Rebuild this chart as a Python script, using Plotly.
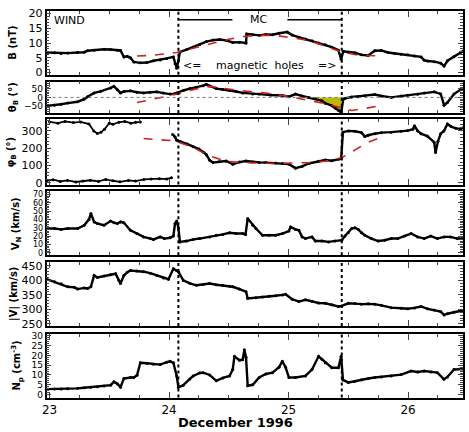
import plotly.graph_objects as go

# ---------------- data (days of December 1996) ----------------
b_t = [22.975, 23.042, 23.097, 23.152, 23.235, 23.290, 23.318, 23.373, 23.456, 23.511, 23.567, 23.594,
       23.622, 23.650, 23.677, 23.705, 23.760, 23.815, 23.870, 23.926, 23.981, 24.036, 24.050, 24.064,
       24.078, 24.091, 24.147, 24.202, 24.257, 24.312, 24.368, 24.423, 24.478, 24.533, 24.589, 24.644,
       24.649, 24.700, 24.754, 24.810, 24.865, 24.920, 24.989, 25.030, 25.086, 25.141, 25.196, 25.251,
       25.307, 25.362, 25.417, 25.440, 25.458, 25.500, 25.555, 25.611, 25.666, 25.721, 25.776, 25.832,
       25.887, 25.942, 25.997, 26.053, 26.108, 26.135, 26.163, 26.218, 26.273, 26.301, 26.329, 26.384,
       26.439, 26.460]
b_v = [6.8, 6.7, 6.5, 6.6, 6.8, 6.9, 7.4, 7.6, 7.9, 7.8, 7.6, 7.5,
       5.3, 5.5, 5.0, 3.6, 3.3, 3.4, 4.0, 4.3, 4.8, 5.3, 3.0, 1.5,
       4.0, 7.0, 7.8, 8.7, 9.5, 10.5, 11.0, 11.2, 10.9, 10.2, 10.3, 10.0,
       13.1, 12.8, 12.6, 12.9, 12.8, 13.3, 13.7, 12.7, 12.0, 11.4, 10.8, 10.0,
       9.4, 8.6, 7.6, 4.5, 7.2, 6.9, 6.7, 6.0, 5.8, 7.4, 7.5, 6.8,
       6.5, 6.2, 6.0, 5.6, 5.3, 4.2, 3.9, 3.7, 3.2, 2.2, 4.0, 5.4,
       6.9, 7.2]
bfit_t = [23.732, 23.850, 24.064, 24.200, 24.340, 24.500, 24.616, 24.750, 24.892, 25.030, 25.169,
          25.300, 25.445, 25.583, 25.721, 25.776]
bfit_v = [5.6, 5.8, 6.8, 8.2, 9.8, 11.3, 12.2, 12.6, 12.6, 11.7, 10.9, 9.0, 7.0, 5.9, 5.6, 5.6]

th_t = [22.975, 23.042, 23.097, 23.152, 23.235, 23.290, 23.318, 23.373, 23.428, 23.511, 23.539, 23.567,
        23.594, 23.622, 23.677, 23.732, 23.787, 23.842, 23.898, 23.953, 24.009, 24.050, 24.064, 24.119,
        24.174, 24.229, 24.285, 24.312, 24.340, 24.395, 24.450, 24.506, 24.561, 24.616, 24.700, 24.754,
        24.850, 24.948, 25.003, 25.058, 25.113, 25.169, 25.224, 25.279, 25.307, 25.362, 25.389, 25.417,
        25.440, 25.458, 25.472, 25.528, 25.583, 25.638, 25.721, 25.776, 25.859, 25.942, 25.997, 26.080,
        26.135, 26.218, 26.273, 26.301, 26.329, 26.384, 26.439, 26.460]
th_v = [-49, -45, -40, -33, -25, -10, 4, 26, 35, 55, 64, 45,
        26, 34, 38, 30, 26, 30, 32, 25, 19, 22, 26, 40,
        51, 58, 68, 76, 66, 51, 46, 42, 34, 26, 20, 19,
        14, 11, 4, 19, 8, 0, -8, -20, -34, -48, -62, -75,
        -87, -10, -6, 2, 4, 10, 17, 8, 0, 8, 13, 18,
        26, 32, 20, -45, -30, 19, 45, 48]
thfit_t = [23.732, 23.900, 24.064, 24.200, 24.340, 24.480, 24.616, 24.892, 25.169, 25.300, 25.445,
           25.530, 25.640, 25.776]
thfit_v = [-30, -5, 19, 45, 64, 50, 38, 19, -15, -35, -60, -76, -64, -47]

phi_top_t = [23.00, 23.07, 23.13, 23.20, 23.26, 23.33, 23.37, 23.40, 23.43, 23.46, 23.50, 23.53,
             23.58, 23.63, 23.68, 23.72, 23.76]
phi_top_v = [352, 345, 355, 348, 352, 340, 300, 285, 292, 310, 345, 338, 350, 355, 345, 350, 352]
phi_low_t = [22.975, 23.03, 23.09, 23.15, 23.22, 23.28, 23.34, 23.41, 23.47, 23.53, 23.59, 23.66,
             23.72, 23.79, 23.85, 23.92, 23.98, 24.02]
phi_low_v = [12, 18, 8, 14, 5, 10, 15, 8, 20, 12, 6, 14, 10, 20, 22, 24, 22, 30]
phi_t = [24.030, 24.050, 24.064, 24.100, 24.150, 24.202, 24.250, 24.290, 24.312, 24.340, 24.368, 24.420,
         24.478, 24.533, 24.589, 24.644, 24.700, 24.754, 24.810, 24.892, 24.948, 25.003, 25.058, 25.113,
         25.169, 25.250, 25.307, 25.362, 25.417, 25.440, 25.455, 25.500, 25.555, 25.611, 25.638, 25.666,
         25.721, 25.776, 25.859, 25.942, 25.997, 26.040, 26.053, 26.080, 26.108, 26.160, 26.218, 26.230,
         26.250, 26.273, 26.300, 26.329, 26.360, 26.400, 26.439, 26.460]
phi_v = [280, 265, 246, 238, 225, 209, 195, 175, 163, 130, 117, 122,
         126, 108, 120, 126, 120, 118, 117, 115, 112, 108, 85, 95,
         112, 125, 132, 128, 136, 140, 293, 300, 298, 290, 268, 275,
         284, 290, 293, 298, 302, 310, 330, 300, 284, 270, 235, 175,
         240, 284, 300, 340, 325, 315, 312, 318]
phifit_t = [23.787, 23.900, 24.009, 24.064, 24.200, 24.340, 24.478, 24.616, 24.892, 25.169, 25.300,
            25.445, 25.583, 25.666, 25.749]
phifit_v = [256, 252, 245, 238, 205, 155, 125, 117, 112, 117, 125, 145, 201, 235, 256]

vn_t = [22.975, 23.042, 23.097, 23.152, 23.235, 23.290, 23.330, 23.346, 23.373, 23.401, 23.456, 23.511,
        23.539, 23.567, 23.594, 23.622, 23.677, 23.732, 23.787, 23.843, 23.870, 23.926, 23.960, 24.009,
        24.036, 24.050, 24.064, 24.078, 24.091, 24.147, 24.202, 24.257, 24.340, 24.395, 24.450, 24.506,
        24.561, 24.616, 24.640, 24.658, 24.700, 24.727, 24.782, 24.837, 24.892, 24.948, 25.003, 25.017,
        25.058, 25.086, 25.113, 25.141, 25.196, 25.224, 25.279, 25.334, 25.389, 25.445, 25.472, 25.500,
        25.528, 25.555, 25.583, 25.611, 25.638, 25.693, 25.749, 25.804, 25.859, 25.914, 25.970, 26.025,
        26.080, 26.135, 26.190, 26.245, 26.301, 26.356, 26.411, 26.460]
vn_v = [29, 29, 28, 29, 29, 33, 40, 47, 37, 35, 33, 38,
        36, 35, 37, 36, 27, 23, 19, 17, 16, 19, 17, 18,
        20, 35, 38, 30, 13, 14, 16, 17, 19, 21, 22, 24,
        23, 23, 22, 41, 33, 29, 21, 21, 21, 23, 26, 31,
        28, 27, 19, 17, 19, 14, 14, 13, 14, 15, 20, 24,
        29, 30, 28, 24, 21, 17, 14, 15, 17, 17, 20, 23,
        19, 17, 20, 17, 19, 19, 17, 17]

v_t = [22.975, 23.042, 23.097, 23.152, 23.208, 23.235, 23.290, 23.318, 23.346, 23.373, 23.401, 23.456,
       23.511, 23.553, 23.580, 23.594, 23.622, 23.650, 23.677, 23.732, 23.787, 23.842, 23.898, 23.953,
       23.995, 24.036, 24.064, 24.078, 24.119, 24.174, 24.229, 24.285, 24.340, 24.395, 24.450, 24.506,
       24.533, 24.589, 24.644, 24.658, 24.727, 24.782, 24.837, 24.892, 24.948, 24.975, 25.030, 25.086,
       25.141, 25.196, 25.251, 25.307, 25.362, 25.417, 25.445, 25.500, 25.555, 25.611, 25.666, 25.721,
       25.776, 25.859, 25.942, 25.997, 26.053, 26.108, 26.163, 26.218, 26.273, 26.301, 26.329, 26.384,
       26.439, 26.460]
v_v = [404, 395, 388, 378, 376, 370, 374, 372, 378, 417, 410, 415,
       419, 423, 400, 389, 417, 428, 434, 432, 430, 425, 417, 408,
       404, 440, 434, 430, 400, 390, 383, 386, 389, 385, 383, 380,
       378, 370, 361, 338, 340, 343, 345, 347, 350, 352, 335, 327,
       333, 328, 322, 321, 316, 310, 312, 321, 320, 318, 319, 318,
       314, 306, 304, 302, 305, 310, 302, 298, 292, 281, 285, 290,
       295, 296]

np_t = [22.975, 23.042, 23.097, 23.152, 23.235, 23.290, 23.346, 23.401, 23.456, 23.511, 23.539, 23.567,
        23.594, 23.622, 23.677, 23.705, 23.732, 23.760, 23.815, 23.870, 23.926, 23.981, 24.009, 24.036,
        24.064, 24.078, 24.119, 24.174, 24.202, 24.257, 24.285, 24.340, 24.395, 24.450, 24.506, 24.533,
        24.547, 24.589, 24.616, 24.630, 24.644, 24.658, 24.700, 24.754, 24.810, 24.865, 24.920, 24.948,
        24.975, 25.003, 25.058, 25.141, 25.196, 25.251, 25.279, 25.307, 25.362, 25.417, 25.440, 25.455,
        25.500, 25.555, 25.611, 25.666, 25.721, 25.776, 25.859, 25.942, 26.025, 26.080, 26.135, 26.190,
        26.245, 26.300, 26.329, 26.384, 26.439, 26.460]
np_v = [2.8, 2.9, 2.8, 3.0, 3.2, 3.5, 3.8, 4.0, 4.4, 4.8, 6.5, 5.5,
        3.8, 8.2, 8.7, 8.7, 9.8, 16.2, 16.0, 15.5, 15.3, 16.5, 17.0, 16.2,
        9.5, 3.7, 4.8, 8.0, 9.5, 11.0, 11.2, 10.0, 7.0, 8.5, 9.5, 12.8,
        19.5, 17.5, 17.8, 22.8, 19.0, 4.5, 5.0, 8.7, 10.5, 11.2, 14.0, 17.0,
        14.0, 8.7, 8.7, 9.5, 12.8, 19.5, 18.0, 16.2, 13.7, 13.7, 19.5, 7.5,
        6.2, 6.8, 7.6, 8.2, 8.7, 9.0, 9.5, 10.2, 12.0, 11.5, 12.0, 11.5,
        11.2, 7.8, 9.0, 12.8, 13.2, 13.0]

mc_start, mc_end = 24.078, 25.445
xticks = [23, 24, 25, 26]

# ---------------- figure ----------------
W, H = 469, 432
panels = [(8, 73), (80, 112), (118, 185), (192, 257), (264, 329), (337, 402)]
ranges = [[-0.7, 20.9], [-90, 92], [-10, 370], [-3, 73.5], [243, 463], [-1.5, 31]]
dticks = [5, 50, 100, 10, 50, 5]
minor_dt = [1, 10, 20, 2, 10, 1]
tick_sizes = [11, 9, 11, 8, 11, 9]
titles = ["B (nT)", "θ<sub>B</sub> (°)", "φ<sub>B</sub> (°)", "V<sub>N</sub> (km/s)",
          "|V| (km/s)", "N<sub>p</sub> (cm<sup>-3</sup>)"]
title_x = [8, 8, 7, 11, 9, 12]

fig = go.Figure()
line_kw = dict(color="black", width=2.4)
mk = dict(color="black", size=3)
red = dict(color="#d02020", width=1.6, dash="dash")


def add(x, y, n, **kw):
    ax = "" if n == 1 else str(n)
    fig.add_trace(go.Scatter(x=x, y=y, xaxis="x" + ax, yaxis="y" + ax, showlegend=False,
                             hoverinfo="skip", **kw))


# panel 1
add(b_t, b_v, 1, mode="lines+markers", line=line_kw, marker=mk)
add(bfit_t, bfit_v, 1, mode="lines", line=red)
# panel 2 (yellow area between zero and data near MC trailing edge)
sel = [(t, v) for t, v in zip(th_t, th_v) if 25.169 <= t <= 25.441]
fx = [sel[0][0]] + [s[0] for s in sel] + [sel[-1][0], sel[0][0]]
fy = [0] + [s[1] for s in sel] + [0, 0]
add(fx, fy, 2, mode="lines", fill="toself", fillcolor="rgb(190,184,0)", line=dict(width=0))
add(th_t, th_v, 2, mode="lines+markers", line=line_kw, marker=mk)
add(thfit_t, thfit_v, 2, mode="lines", line=red)
# panel 3
add(phi_top_t, phi_top_v, 3, mode="lines+markers", line=dict(color="black", width=1.8), marker=mk)
add(phi_low_t, phi_low_v, 3, mode="lines+markers", line=dict(color="black", width=1.8), marker=mk)
add(phi_t, phi_v, 3, mode="lines+markers", line=line_kw, marker=mk)
add(phifit_t, phifit_v, 3, mode="lines", line=red)
# panels 4-6
add(vn_t, vn_v, 4, mode="lines+markers", line=line_kw, marker=mk)
add(v_t, v_v, 5, mode="lines+markers", line=line_kw, marker=mk)
add(np_t, np_v, 6, mode="lines+markers", line=line_kw, marker=mk)

font = "DejaVu Sans, Arial, sans-serif"
layout = dict(width=W, height=H, margin=dict(l=0, r=0, t=0, b=0), plot_bgcolor="white",
              paper_bgcolor="white", font=dict(family=font, size=11, color="black"))
shapes, annotations = [], []
for i, (top, bot) in enumerate(panels):
    n = i + 1
    ax = "" if n == 1 else str(n)
    dom = [1 - bot / H, 1 - top / H]
    layout["xaxis" + ax] = dict(
        domain=[42 / W, 463 / W], range=[22.975, 26.46], anchor="y" + ax,
        showline=True, linecolor="black", linewidth=1.5, mirror="allticks",
        ticks="inside", ticklen=6, tickwidth=1, tickmode="array", tickvals=xticks,
        ticktext=[str(v) for v in xticks], showticklabels=(n == 6),
        tickfont=dict(size=12, family=font),
        minor=dict(ticks="inside", ticklen=3, dtick=0.25, tick0=23, tickwidth=1),
        showgrid=False, zeroline=False)
    if n != 1:
        layout["xaxis" + ax]["matches"] = "x"
    layout["yaxis" + ax] = dict(
        domain=dom, range=ranges[i], anchor="x" + ax,
        showline=True, linecolor="black", linewidth=1.5, mirror="allticks",
        ticks="inside", ticklen=5, tickwidth=1, dtick=dticks[i], tick0=0,
        tickfont=dict(size=tick_sizes[i], family=font),
        minor=dict(ticks="inside", ticklen=3, dtick=minor_dt[i], tickwidth=1),
        showgrid=False, zeroline=False)
    shapes.append(dict(type="line", xref="x" + ax, yref="y" + ax + " domain", x0=mc_start, x1=mc_start,
                       y0=0, y1=1, line=dict(color="black", width=2, dash="dot")))
    shapes.append(dict(type="line", xref="x" + ax, yref="y" + ax + " domain", x0=mc_end, x1=mc_end,
                       y0=0, y1=1, line=dict(color="black", width=2, dash="dot")))
    annotations.append(dict(text="<b>" + titles[i] + "</b>", xref="paper", yref="paper",
                            x=title_x[i] / W, y=1 - (top + bot) / 2 / H, textangle=-90,
                            showarrow=False, xanchor="center", yanchor="middle",
                            font=dict(size=10, family=font)))

# zero line in theta panel
shapes.append(dict(type="line", xref="x2 domain", yref="y2", x0=0, x1=1, y0=0, y1=0,
                   line=dict(color="#777777", width=1, dash="dot")))
# MC bar
shapes.append(dict(type="line", xref="x", yref="y", x0=24.085, x1=24.53, y0=17.9, y1=17.9,
                   line=dict(color="black", width=1.5)))
shapes.append(dict(type="line", xref="x", yref="y", x0=24.99, x1=25.44, y0=17.9, y1=17.9,
                   line=dict(color="black", width=1.5)))
annotations += [
    dict(text="WIND", xref="x", yref="y", x=23.02, y=17.8, xanchor="left", yanchor="middle",
         showarrow=False, font=dict(size=11)),
    dict(text="MC", xref="x", yref="y", x=24.75, y=17.9, xanchor="center", yanchor="middle",
         showarrow=False, font=dict(size=11)),
    dict(text="<=", xref="x", yref="y", x=24.19, y=2.4, xanchor="center", yanchor="middle",
         showarrow=False, font=dict(size=11)),
    dict(text="magnetic  holes", xref="x", yref="y", x=24.76, y=2.4, xanchor="center",
         yanchor="middle", showarrow=False, font=dict(size=11)),
    dict(text="=>", xref="x", yref="y", x=25.32, y=2.4, xanchor="center", yanchor="middle",
         showarrow=False, font=dict(size=11)),
    dict(text="<b>December 1996</b>", xref="paper", yref="paper", x=233 / W, y=1 - 427 / H,
         xanchor="center", yanchor="middle", showarrow=False, font=dict(size=13)),
]
layout["shapes"] = shapes
layout["annotations"] = annotations
fig.update_layout(**layout)
fig.write_html("out.html")
